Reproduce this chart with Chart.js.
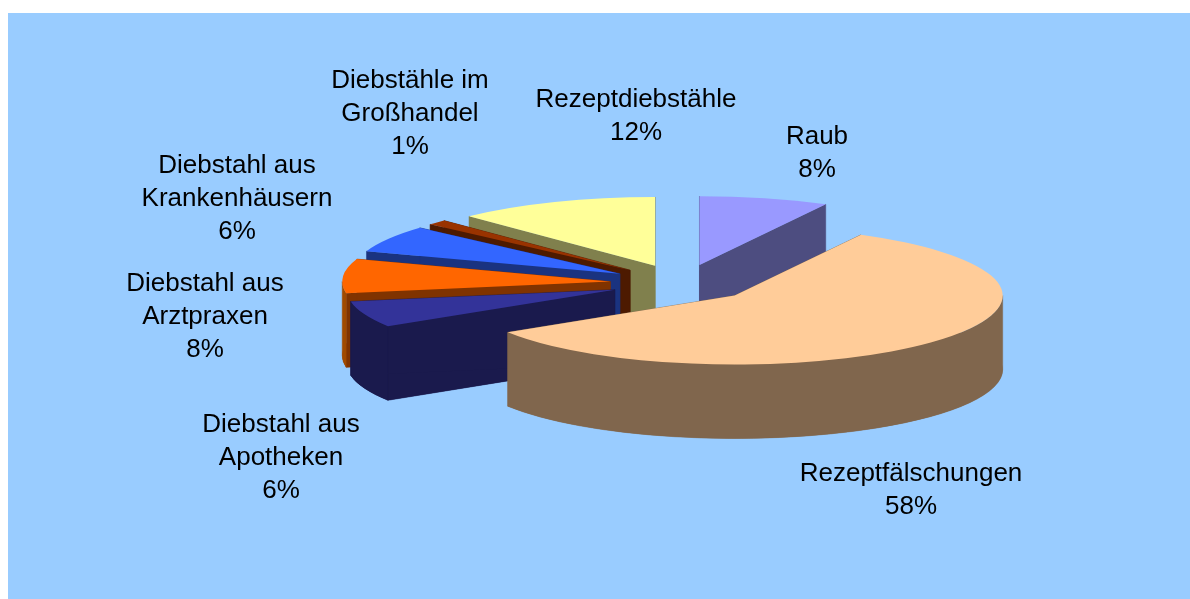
<!DOCTYPE html>
<html lang="de">

<head>
  <meta charset="UTF-8">
  <title>Rezeptdiebstähle und -fälschungen</title>
  <script src="https://cdn.jsdelivr.net/npm/chart.js"></script>
  <style>
    html, body {
      margin: 0;
      background: #fff;
      overflow: hidden;
    }
    #wrap {
      position: absolute;
      left: 8px;
      top: 13px;
      width: 1182px;
      height: 586px;
      background: #99ccff;
    }
  </style>
</head>

<body>
  <div id="wrap"><canvas id="pie" width="1182" height="586"></canvas></div>

  <script>
    const labelLines = [
      ['Raub'],
      ['Rezeptfälschungen'],
      ['Diebstahl aus', 'Apotheken'],
      ['Diebstahl aus', 'Arztpraxen'],
      ['Diebstahl aus', 'Krankenhäusern'],
      ['Diebstähle im', 'Großhandel'],
      ['Rezeptdiebstähle']
    ];
    const shares = [7.8, 58.2, 6.2, 8.0, 6.3, 1.2, 12.2];

    const topColors = ['#9999ff', '#ffcc99', '#333399', '#ff6600', '#3366ff', '#993300', '#ffff99'];
    const sideColors = ['#4d4d80', '#80664d', '#1a1a4d', '#803300', '#1a3380', '#4d1a00', '#80804d'];
    const wallColors = ['#4d4d80', '#80664d', '#1a1a4d', '#a04a00', '#1a3380', '#4d1a00', '#80804d'];

    // back to front
    const paintOrder = [0, 6, 5, 4, 3, 2, 1];

    // label anchors, canvas pixels (centre of first line)
    const labelX = [809, 903, 273, 197, 229, 402, 628];
    const labelY = [124, 461, 412, 271, 153, 68, 87];

    const squash = 0.257;
    const depth = 74;
    const explode = 72;
    const lineHeight = 32.7;

    const pie3d = {
      id: 'pie3d',
      beforeDatasetsDraw(chart) {
        const ctx = chart.ctx;
        const arcs = chart.getDatasetMeta(0).data;
        paintOrder.forEach(i => {
          const arc = arcs[i];
          const mid = (arc.startAngle + arc.endAngle) / 2;
          const r = arc.outerRadius;
          const px = arc.x + Math.cos(mid) * explode;
          const py = arc.y + Math.sin(mid) * explode * squash;
          const topOptions = arc.options;

          const rimX = (a) => px + Math.cos(a) * r;
          const rimY = (a) => py + Math.sin(a) * r * squash;
          const drawAt = (dy) => {
            ctx.save();
            ctx.translate(arc.x, arc.y + dy);
            ctx.scale(1, squash);
            ctx.translate(-arc.x, -arc.y);
            ctx.translate(Math.cos(mid) * explode, Math.sin(mid) * explode);
            arc.draw(ctx);
            ctx.restore();
          };
          const paint = (color) => {
            ctx.closePath();
            ctx.fillStyle = color;
            ctx.strokeStyle = color;
            ctx.fill();
            ctx.stroke();
          };

          ctx.save();
          ctx.lineWidth = 0.5;
          // floor of the slice
          arc.options = Object.assign({}, topOptions, { backgroundColor: sideColors[i] });
          drawAt(depth);
          arc.options = topOptions;
          // the two cut faces
          [arc.startAngle, arc.endAngle].forEach(a => {
            ctx.beginPath();
            ctx.moveTo(px, py);
            ctx.lineTo(rimX(a), rimY(a));
            ctx.lineTo(rimX(a), rimY(a) + depth);
            ctx.lineTo(px, py + depth);
            paint(sideColors[i]);
          });
          // outer wall, only the part facing the viewer
          const from = Math.max(arc.startAngle, 0);
          const to = Math.min(arc.endAngle, Math.PI);
          if (to > from) {
            ctx.beginPath();
            ctx.ellipse(px, py, r, r * squash, 0, from, to);
            ctx.ellipse(px, py + depth, r, r * squash, 0, to, from, true);
            paint(wallColors[i]);
          }
          ctx.restore();

          drawAt(0);
        });
        return false;
      },
      afterDraw(chart) {
        const ctx = chart.ctx;
        ctx.save();
        ctx.font = '26px "Liberation Sans"';
        ctx.fillStyle = '#000';
        ctx.textAlign = 'center';
        ctx.textBaseline = 'middle';
        labelLines.forEach((lines, i) => {
          const all = lines.concat(Math.round(shares[i]) + '%');
          all.forEach((line, n) => ctx.fillText(line, labelX[i], labelY[i] + n * lineHeight));
        });
        ctx.restore();
      }
    };

    new Chart(document.getElementById('pie'), {
      type: 'pie',
      data: {
        labels: labelLines.map(l => l.join(' ')),
        datasets: [{
          data: shares,
          backgroundColor: topColors,
          borderWidth: 0
        }]
      },
      options: {
        responsive: false,
        animation: false,
        events: [],
        radius: 268,
        layout: { padding: { left: 166, bottom: 46 } },
        plugins: {
          legend: { display: false },
          tooltip: { enabled: false }
        }
      },
      plugins: [pie3d]
    });
  </script>
</body>

</html>
